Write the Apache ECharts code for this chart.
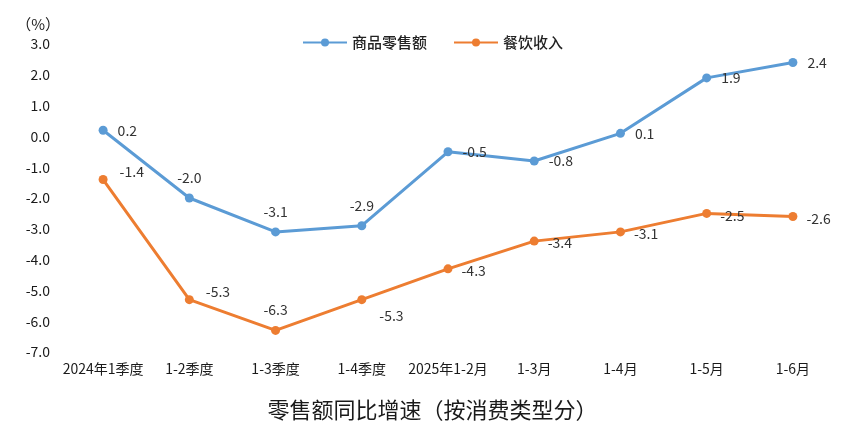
<!DOCTYPE html>
<html>
<head>
<meta charset="utf-8">
<script src="https://cdn.jsdelivr.net/npm/echarts@6/dist/echarts.min.js"></script>
<style>
html, body { margin: 0; padding: 0; background: #fff; }
#main { width: 865px; height: 442px; }
</style>
</head>
<body>
<div id="main"></div>
<script>
// 数据
var categories = ['2024年1季度', '1-2季度', '1-3季度', '1-4季度', '2025年1-2月', '1-3月', '1-4月', '1-5月', '1-6月'];
var goodsData = [0.2, -2.0, -3.1, -2.9, -0.5, -0.8, 0.1, 1.9, 2.4];
var cateringData = [-1.4, -5.3, -6.3, -5.3, -4.3, -3.4, -3.1, -2.5, -2.6];

var font = '"Noto Sans CJK SC", "Noto Sans", sans-serif';

// 标签位置
function goodsLabel(i) {
    if (i >= 1 && i <= 3) {
        return {position: 'top', offset: [0, -4]};
    }
    return {position: 'right', offset: [5, 0]};
}
function cateringLabel(i) {
    if (i == 0 || i == 1) {
        return {position: 'right', offset: [7, -8]};
    }
    if (i == 2) {
        return {position: 'top', offset: [0, -4]};
    }
    if (i == 3) {
        return {position: 'right', offset: [8, 16]};
    }
    return {position: 'right', offset: [4, 2]};
}
function buildData(values, labelFn) {
    var res = [];
    for (var i = 0; i < values.length; i++) {
        res.push({value: values[i], label: labelFn(i)});
    }
    return res;
}

var chart = echarts.init(document.getElementById('main'));
chart.setOption({
    animation: false,
    title: {
        text: '零售额同比增速（按消费类型分）',
        left: 'center',
        bottom: 16,
        textStyle: {fontFamily: font, fontSize: 22, fontWeight: 'normal', color: '#1a1a1a'}
    },
    legend: {
        top: 30,
        left: 'center',
        itemWidth: 44,
        itemHeight: 10,
        itemGap: 26,
        textStyle: {fontFamily: font, fontSize: 15, fontWeight: 500, color: '#222'},
        data: ['商品零售额', '餐饮收入']
    },
    grid: {left: 60, right: 29, top: 44, bottom: 90},
    xAxis: {
        type: 'category',
        data: categories,
        boundaryGap: true,
        axisLine: {show: false},
        axisTick: {show: false},
        axisLabel: {fontFamily: '"Liberation Sans Narrow", "Noto Sans CJK SC", sans-serif', fontSize: 14, color: '#1a1a1a', margin: 10, interval: 0}
    },
    yAxis: {
        type: 'value',
        min: -7,
        max: 3,
        interval: 1,
        name: '（%）',
        nameGap: 12,
        nameTextStyle: {fontFamily: font, fontSize: 15, color: '#1a1a1a', align: 'right', padding: [0, 0, 0, 0]},
        splitLine: {show: false},
        axisLine: {show: false},
        axisTick: {show: false},
        axisLabel: {
            fontFamily: font, fontSize: 14, color: '#1a1a1a', margin: 10,
            formatter: function (v) { return v.toFixed(1); }
        }
    },
    series: [
        {
            name: '商品零售额',
            type: 'line',
            data: buildData(goodsData, goodsLabel),
            symbol: 'circle',
            symbolSize: 9,
            lineStyle: {width: 3, color: '#5B9BD5'},
            itemStyle: {color: '#5B9BD5'},
            label: {
                show: true, fontFamily: font, fontSize: 14, color: '#333',
                formatter: function (p) { return p.value.toFixed(1); }
            }
        },
        {
            name: '餐饮收入',
            type: 'line',
            data: buildData(cateringData, cateringLabel),
            symbol: 'circle',
            symbolSize: 9,
            lineStyle: {width: 3, color: '#ED7D31'},
            itemStyle: {color: '#ED7D31'},
            label: {
                show: true, fontFamily: font, fontSize: 14, color: '#333',
                formatter: function (p) { return p.value.toFixed(1); }
            }
        }
    ]
});
</script>
</body>
</html>
